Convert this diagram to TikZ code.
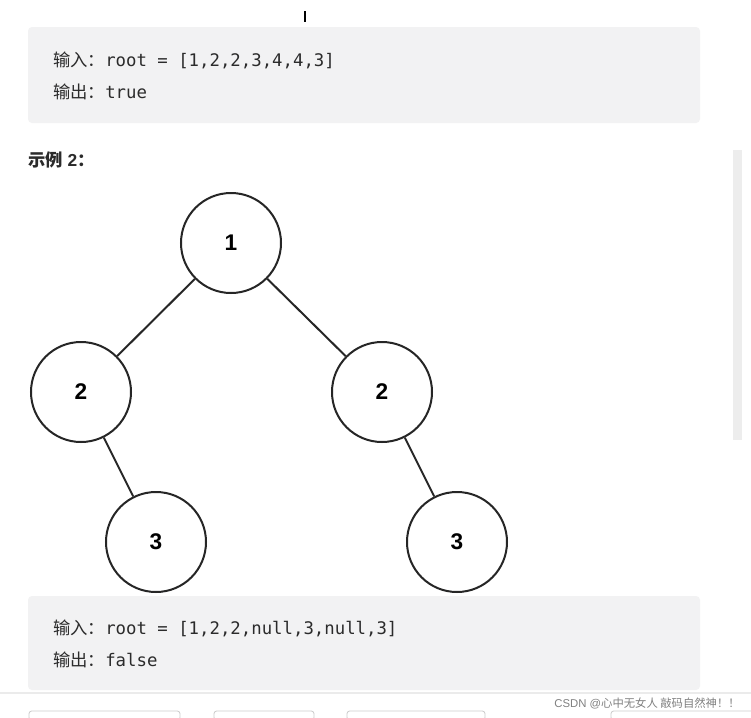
\documentclass[tikz,border=0pt]{standalone}
\usepackage{fontspec}
\setmainfont{Liberation Sans}
\setmonofont{DejaVu Sans Mono}
\newfontfamily\cjk{Noto Sans CJK SC}
\definecolor{boxbg}{HTML}{F2F2F3}
\definecolor{txt}{HTML}{2B2B2B}
\tikzset{
  codebox/.style={fill=boxbg,rounded corners=3pt,draw=none},
  tnode/.style={circle,draw=black!85,line width=1.5pt,minimum size=75pt,inner sep=0pt,font=\fontsize{17}{17}\selectfont\bfseries},
  edge/.style={line width=1.5pt,draw=black!85},
  codeline/.style={anchor=west,inner sep=0pt,text=txt,font=\fontsize{13}{13}\selectfont},
  btn/.style={draw=black!20,rounded corners=2pt,line width=0.6pt}
}
\begin{document}
\begin{tikzpicture}[x=0.75pt,y=-0.75pt]
\useasboundingbox[fill=white] (0,0) rectangle (751,718);
\draw[line width=2pt] (305,11) -- (305,22);
\fill[codebox] (28,27) rectangle (700,123);
\node[codeline] (l1) at (53,60) {{\cjk 输入：}\ttfamily root = [1,2,2,3,4,4,3]};
\node[codeline] (l2) at (53,92) {{\cjk 输出：}\ttfamily true};
\node[anchor=west,inner sep=0pt,text=txt,font=\fontsize{13}{13}\selectfont\bfseries] (ex) at (28,160) {{\cjk\bfseries 示例} 2{\cjk：}};
\fill[black!7] (733,150) rectangle (742,440);
\node[tnode] (a) at (231,243) {1};
\node[tnode] (b) at (81,392) {2};
\node[tnode] (c) at (382,392) {2};
\node[tnode] (d) at (156,542) {3};
\node[tnode] (e) at (457,542) {3};
\draw[edge] (a) -- (b);
\draw[edge] (a) -- (c);
\draw[edge] (b) -- (d);
\draw[edge] (c) -- (e);
\fill[codebox] (28,596) rectangle (700,690);
\node[codeline] (l3) at (53,628) {{\cjk 输入：}\ttfamily root = [1,2,2,null,3,null,3]};
\node[codeline] (l4) at (53,660) {{\cjk 输出：}\ttfamily false};
\draw[black!8,line width=1pt] (0,693) -- (751,693);
\node[anchor=east,inner sep=0pt,text=black!50,font=\fontsize{8.5}{8.5}\selectfont] (wm) at (740,703) {CSDN @{\cjk 心中无女人 敲码自然神！！}};
\draw[btn] (29,720) rectangle (180,711);
\draw[btn] (214,720) rectangle (314,711);
\draw[btn] (347,720) rectangle (485,711);
\draw[btn] (611,720) rectangle (755,711);
\end{tikzpicture}
\end{document}
